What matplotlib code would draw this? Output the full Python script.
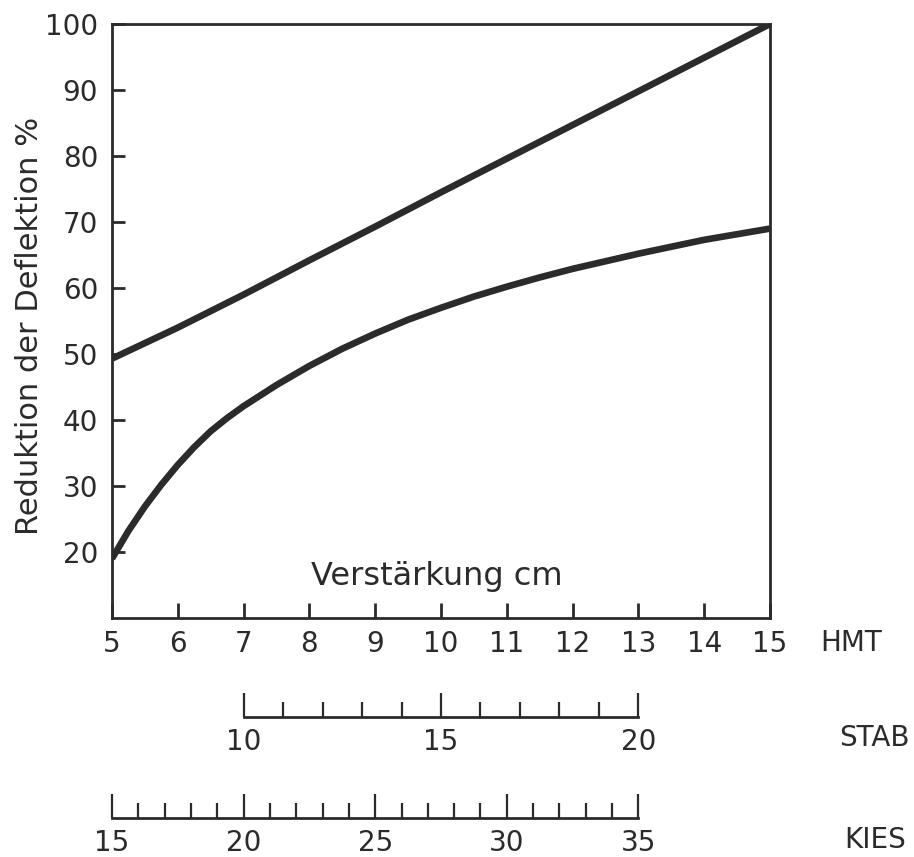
import numpy as np, matplotlib.pyplot as plt
from matplotlib.ticker import MultipleLocator

plt.rcParams['font.family'] = ['DejaVu Sans']

# HMT thickness (cm) and deflection reduction (%)
hmt_upper = [5, 6, 7, 8, 9, 10, 11, 12, 13, 14, 15]
upper = [49.3, 54, 59, 64.2, 69.3, 74.5, 79.6, 84.7, 89.8, 94.9, 100]

hmt_lower = [5, 5.25, 5.5, 5.75, 6, 6.25, 6.5, 6.75, 7, 7.5, 8, 8.5, 9, 9.5,
             10, 10.5, 11, 11.5, 12, 13, 14, 15]
lower = [19, 23.2, 26.9, 30.2, 33.2, 35.9, 38.3, 40.3, 42.1, 45.3, 48.2, 50.8,
         53.1, 55.2, 57.0, 58.7, 60.2, 61.6, 62.9, 65.2, 67.3, 69]

hmt_ticks = [5, 6, 7, 8, 9, 10, 11, 12, 13, 14, 15]
y_ticks = [20, 30, 40, 50, 60, 70, 80, 90, 100]

# equivalent thickness scales: (value, matching HMT)
stab_ref = [(10, 7), (20, 13)]
kies_ref = [(15, 5), (35, 13)]

ink = '#2b2b2b'
W, H = 914, 857

fig = plt.figure(figsize=(W / 100, H / 100), dpi=100)
left, right = 112 / W, 770 / W
ax = fig.add_axes([left, 1 - 618 / H, right - left, (618 - 24) / H])

ax.plot(hmt_upper, upper, color=ink, lw=4.8, solid_capstyle='butt')
ax.plot(hmt_lower, lower, color=ink, lw=4.8, solid_capstyle='butt',
        solid_joinstyle='round')

ax.set_xlim(5, 15)
ax.set_ylim(10, 100)
ax.set_xticks(hmt_ticks)
ax.set_yticks(y_ticks)
for s in ax.spines.values():
    s.set_linewidth(2)
    s.set_color(ink)
ax.tick_params(axis='x', direction='in', length=11, width=2, pad=9,
               labelsize=20, colors=ink)
ax.tick_params(axis='y', direction='in', length=9, width=2, pad=10,
               labelsize=20, colors=ink)
ax.set_ylabel('Reduktion der Deflektion %', fontsize=22, color=ink)
ax.yaxis.set_label_coords((44 - 112) / 658, (618 - 326) / 594)
ax.text((437 - 112) / 658, (618 - 577) / 594, 'Verstärkung cm',
        transform=ax.transAxes, ha='center', va='center', fontsize=23,
        color=ink)


def scale_axis(ypix, ref, major):
    (v0, h0), (v1, h1) = ref
    k = (v1 - v0) / (h1 - h0)
    sa = fig.add_axes([left, 1 - ypix / H, right - left, 0.0001])
    sa.set_facecolor('none')
    sa.set_xlim(v0 + (5 - h0) * k, v0 + (15 - h0) * k)
    sa.set_yticks([])
    for side in ['left', 'right', 'top']:
        sa.spines[side].set_visible(False)
    sa.spines['bottom'].set_bounds(v0, v1)
    sa.spines['bottom'].set_linewidth(2)
    sa.spines['bottom'].set_color(ink)
    sa.set_xticks(np.arange(v0, v1 + 0.5, major))
    sa.set_xticks(np.arange(v0, v1 + 0.5, 1), minor=True)
    sa.tick_params(which='major', direction='in', length=17, width=1.6,
                   pad=8, labelsize=20, colors=ink)
    sa.tick_params(which='minor', direction='in', length=11, width=1.6,
                   colors=ink)
    return sa


scale_axis(717, stab_ref, 5)
scale_axis(818, kies_ref, 5)

fig.text(882 / W, 1 - 643 / H, 'HMT', ha='right', va='center', fontsize=20, color=ink)
fig.text(910 / W, 1 - 738 / H, 'STAB', ha='right', va='center', fontsize=20, color=ink)
fig.text(906 / W, 1 - 840 / H, 'KIES', ha='right', va='center', fontsize=20, color=ink)

fig.savefig('out.png', dpi=100, facecolor='white')
